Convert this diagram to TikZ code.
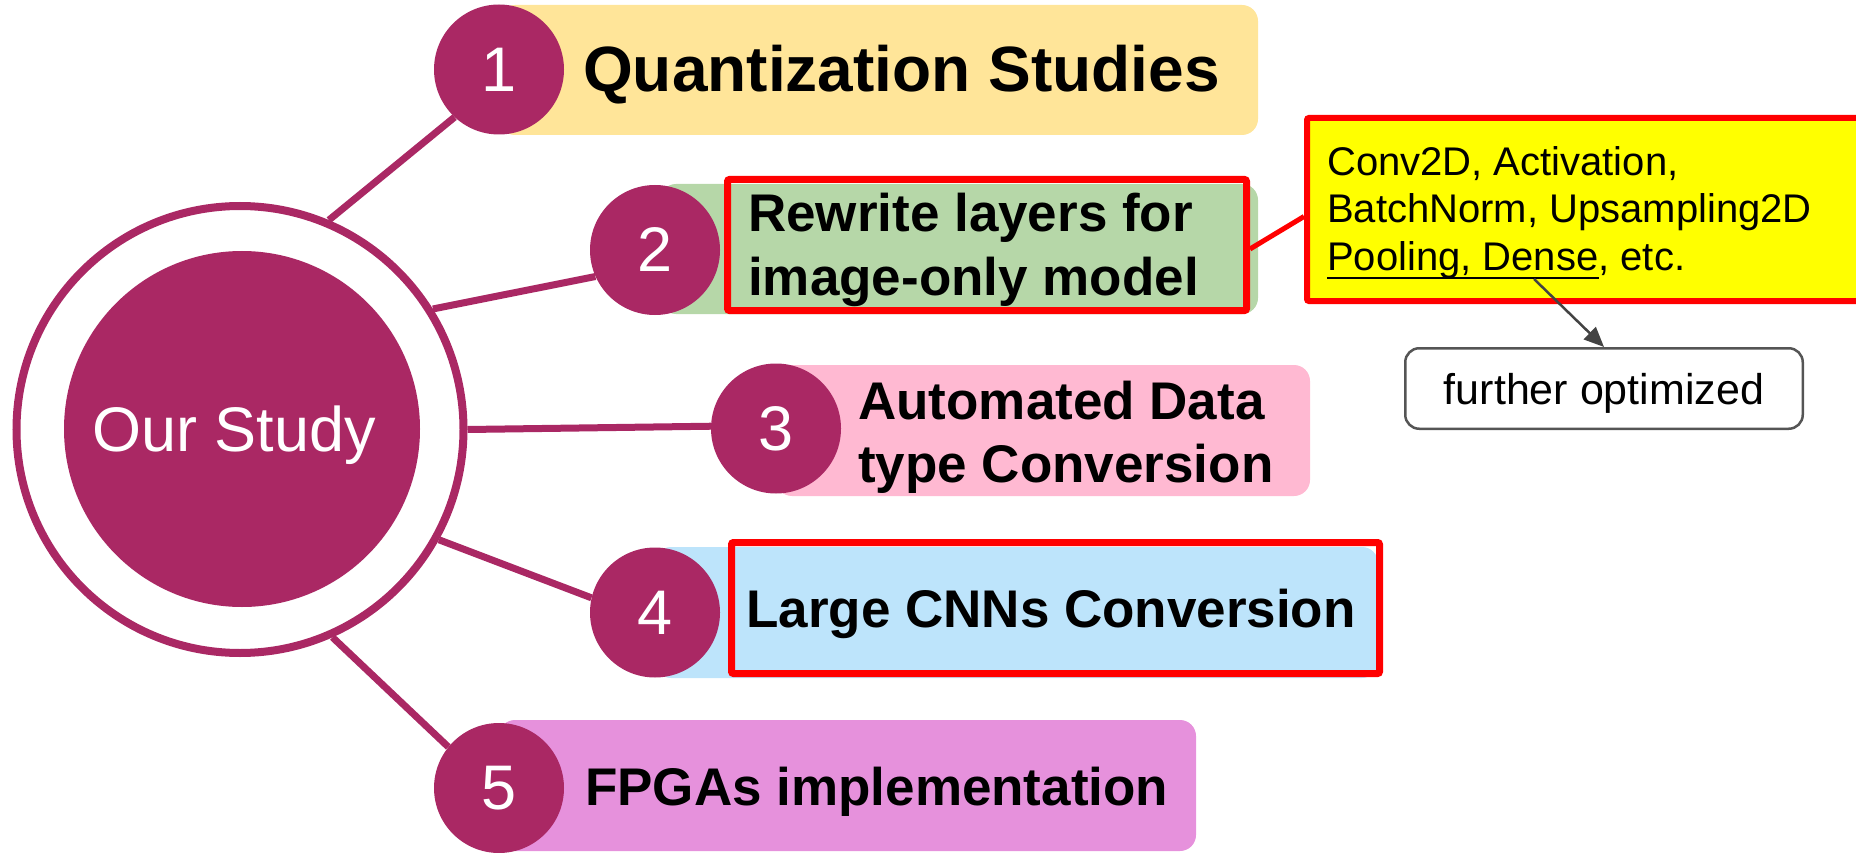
\documentclass[tikz,border=0pt]{standalone}
\usepackage{fontspec}
\setmainfont{Liberation Sans}
\usetikzlibrary{arrows.meta}

\definecolor{plum}{RGB}{170,40,100}
\definecolor{bandA}{RGB}{255,229,153}
\definecolor{bandB}{RGB}{182,215,168}
\definecolor{bandC}{RGB}{255,185,210}
\definecolor{bandD}{RGB}{189,228,251}
\definecolor{bandE}{RGB}{230,145,220}
\definecolor{callfill}{RGB}{255,255,0}
\definecolor{edgegray}{RGB}{85,85,85}
\definecolor{arrowgray}{RGB}{67,67,67}

% underline that sits across the descenders
\newsavebox\ulbox
\newcommand\ulin[1]{\sbox\ulbox{#1}\rlap{\rule[-9.3pt]{\wd\ulbox}{2.6pt}}\usebox\ulbox}

\tikzset{
  band/.style={rounded corners=16pt, inner sep=0pt},
  numdisc/.style={circle, fill=plum, minimum size=130pt, inner sep=0pt,
                  text=white, font=\fontsize{63}{63}\selectfont},
  redframe/.style={draw=red, line width=7pt, rounded corners=2pt, inner sep=0pt},
  spoke/.style={draw=plum, line width=7pt},
  title/.style={anchor=base west, inner sep=0pt,
                font=\bfseries\fontsize{53}{63}\selectfont},
  note/.style={anchor=base west, inner sep=0pt, font=\fontsize{40}{47}\selectfont},
}

\begin{document}
\begin{tikzpicture}[x=1pt,y=-1pt]
\path[use as bounding box] (0,0) rectangle (1856,853);
\clip (0,0) rectangle (1856,853);

% coloured bands behind the numbered discs
\node[band, fill=bandA, minimum width=759pt, minimum height=130pt] (b1) at (878.5,70) {};
\node[band, fill=bandB, minimum width=598pt, minimum height=130pt] (b2) at (959,249) {};
\node[band, fill=bandC, minimum width=534pt, minimum height=131pt] (b3) at (1043,430.5) {};
\node[band, fill=bandD, minimum width=723pt, minimum height=131pt] (b4) at (1016.5,612.5) {};
\node[band, fill=bandE, minimum width=697pt, minimum height=131pt] (b5) at (847.5,785.5) {};

% layer list callout
\node[redframe, line width=6pt, fill=callfill, minimum width=573pt, minimum height=183pt] (cl) at (1593.5,209.5) {};

% central hub
\node[circle, draw=plum, line width=8pt, minimum size=447pt, inner sep=0pt] (ring) at (240,429.5) {};
\node[circle, fill=plum, minimum size=356pt, inner sep=0pt] (hub) at (242,429) {};
\node[anchor=base, text=white, inner sep=0pt, font=\fontsize{63}{63}\selectfont] (hubtxt) at (234,451) {Our Study};

% disc positions, so the spokes can be drawn underneath the discs
\coordinate (p1) at (499,69.5);
\coordinate (p2) at (655,250);
\coordinate (p3) at (776,428.5);
\coordinate (p4) at (655,612.5);
\coordinate (p5) at (499,788);

% numbered discs (drawn first as empty shapes to get anchors)
\path (p1) node[circle, minimum size=130pt, inner sep=0pt] (c1) {};
\path (p2) node[circle, minimum size=130pt, inner sep=0pt] (c2) {};
\path (p3) node[circle, minimum size=130pt, inner sep=0pt] (c3) {};
\path (p4) node[circle, minimum size=130pt, inner sep=0pt] (c4) {};
\path (p5) node[circle, minimum size=130pt, inner sep=0pt] (c5) {};

% spokes from the hub ring to the discs
\draw[spoke] (ring.67) -- (c1.227);
\draw[spoke] (ring.32) -- (c2.204);
\draw[spoke] (ring.0) -- (c3.178);
\draw[spoke] (ring.-29) -- (c4.167);
\draw[spoke] (ring.-66) -- (c5.141);

\node[numdisc] (d1) at (c1) {1};
\node[numdisc] (d2) at (c2) {2};
\node[numdisc] (d3) at (c3) {3};
\node[numdisc] (d4) at (c4) {4};
\node[numdisc] (d5) at (c5) {5};

% highlighted items
\node[redframe, minimum width=519pt, minimum height=131pt] (r2) at (987,245) {};
\node[redframe, minimum width=648pt, minimum height=131pt] (r4) at (1055.5,608) {};

% item titles
\node[title, font=\bfseries\fontsize{64}{64}\selectfont] (t1) at (583,92) {Quantization Studies};
\node[title] (t2a) at (748,232) {Rewrite layers for};
\node[title] (t2b) at (748,295) {image-only model};
\node[title] (t3a) at (858,419) {Automated Data};
\node[title] (t3b) at (858,482) {type Conversion};
\node[title] (t4) at (746,627) {Large CNNs Conversion};
\node[title] (t5) at (585,805) {FPGAs implementation};

% callout text and link
\node[note] (n1) at (1327,176) {Conv2D, Activation,};
\node[note] (n2) at (1327,223) {BatchNorm, Upsampling2D};
\node[note] (n3) at (1327,270) {\ulin{Pooling, Dense}, etc.};
\draw[draw=red, line width=5pt] ([yshift=-4pt]r2.east) -- ([yshift=-7pt]cl.west);

% further optimized
\node[draw=edgegray, line width=2.5pt, rounded corners=14pt, inner sep=0pt,
      minimum width=397.5pt, minimum height=80.5pt,
      text height=32pt, text depth=0pt, font=\fontsize{43}{43}\selectfont] (fo) at (1604,388.5) {further optimized};
\coordinate (ulpt) at (1534,279);
\draw[arrowgray, line width=2.5pt, -{Triangle[length=20pt,width=17pt]}] (ulpt) -- (fo.north);
\end{tikzpicture}
\end{document}
